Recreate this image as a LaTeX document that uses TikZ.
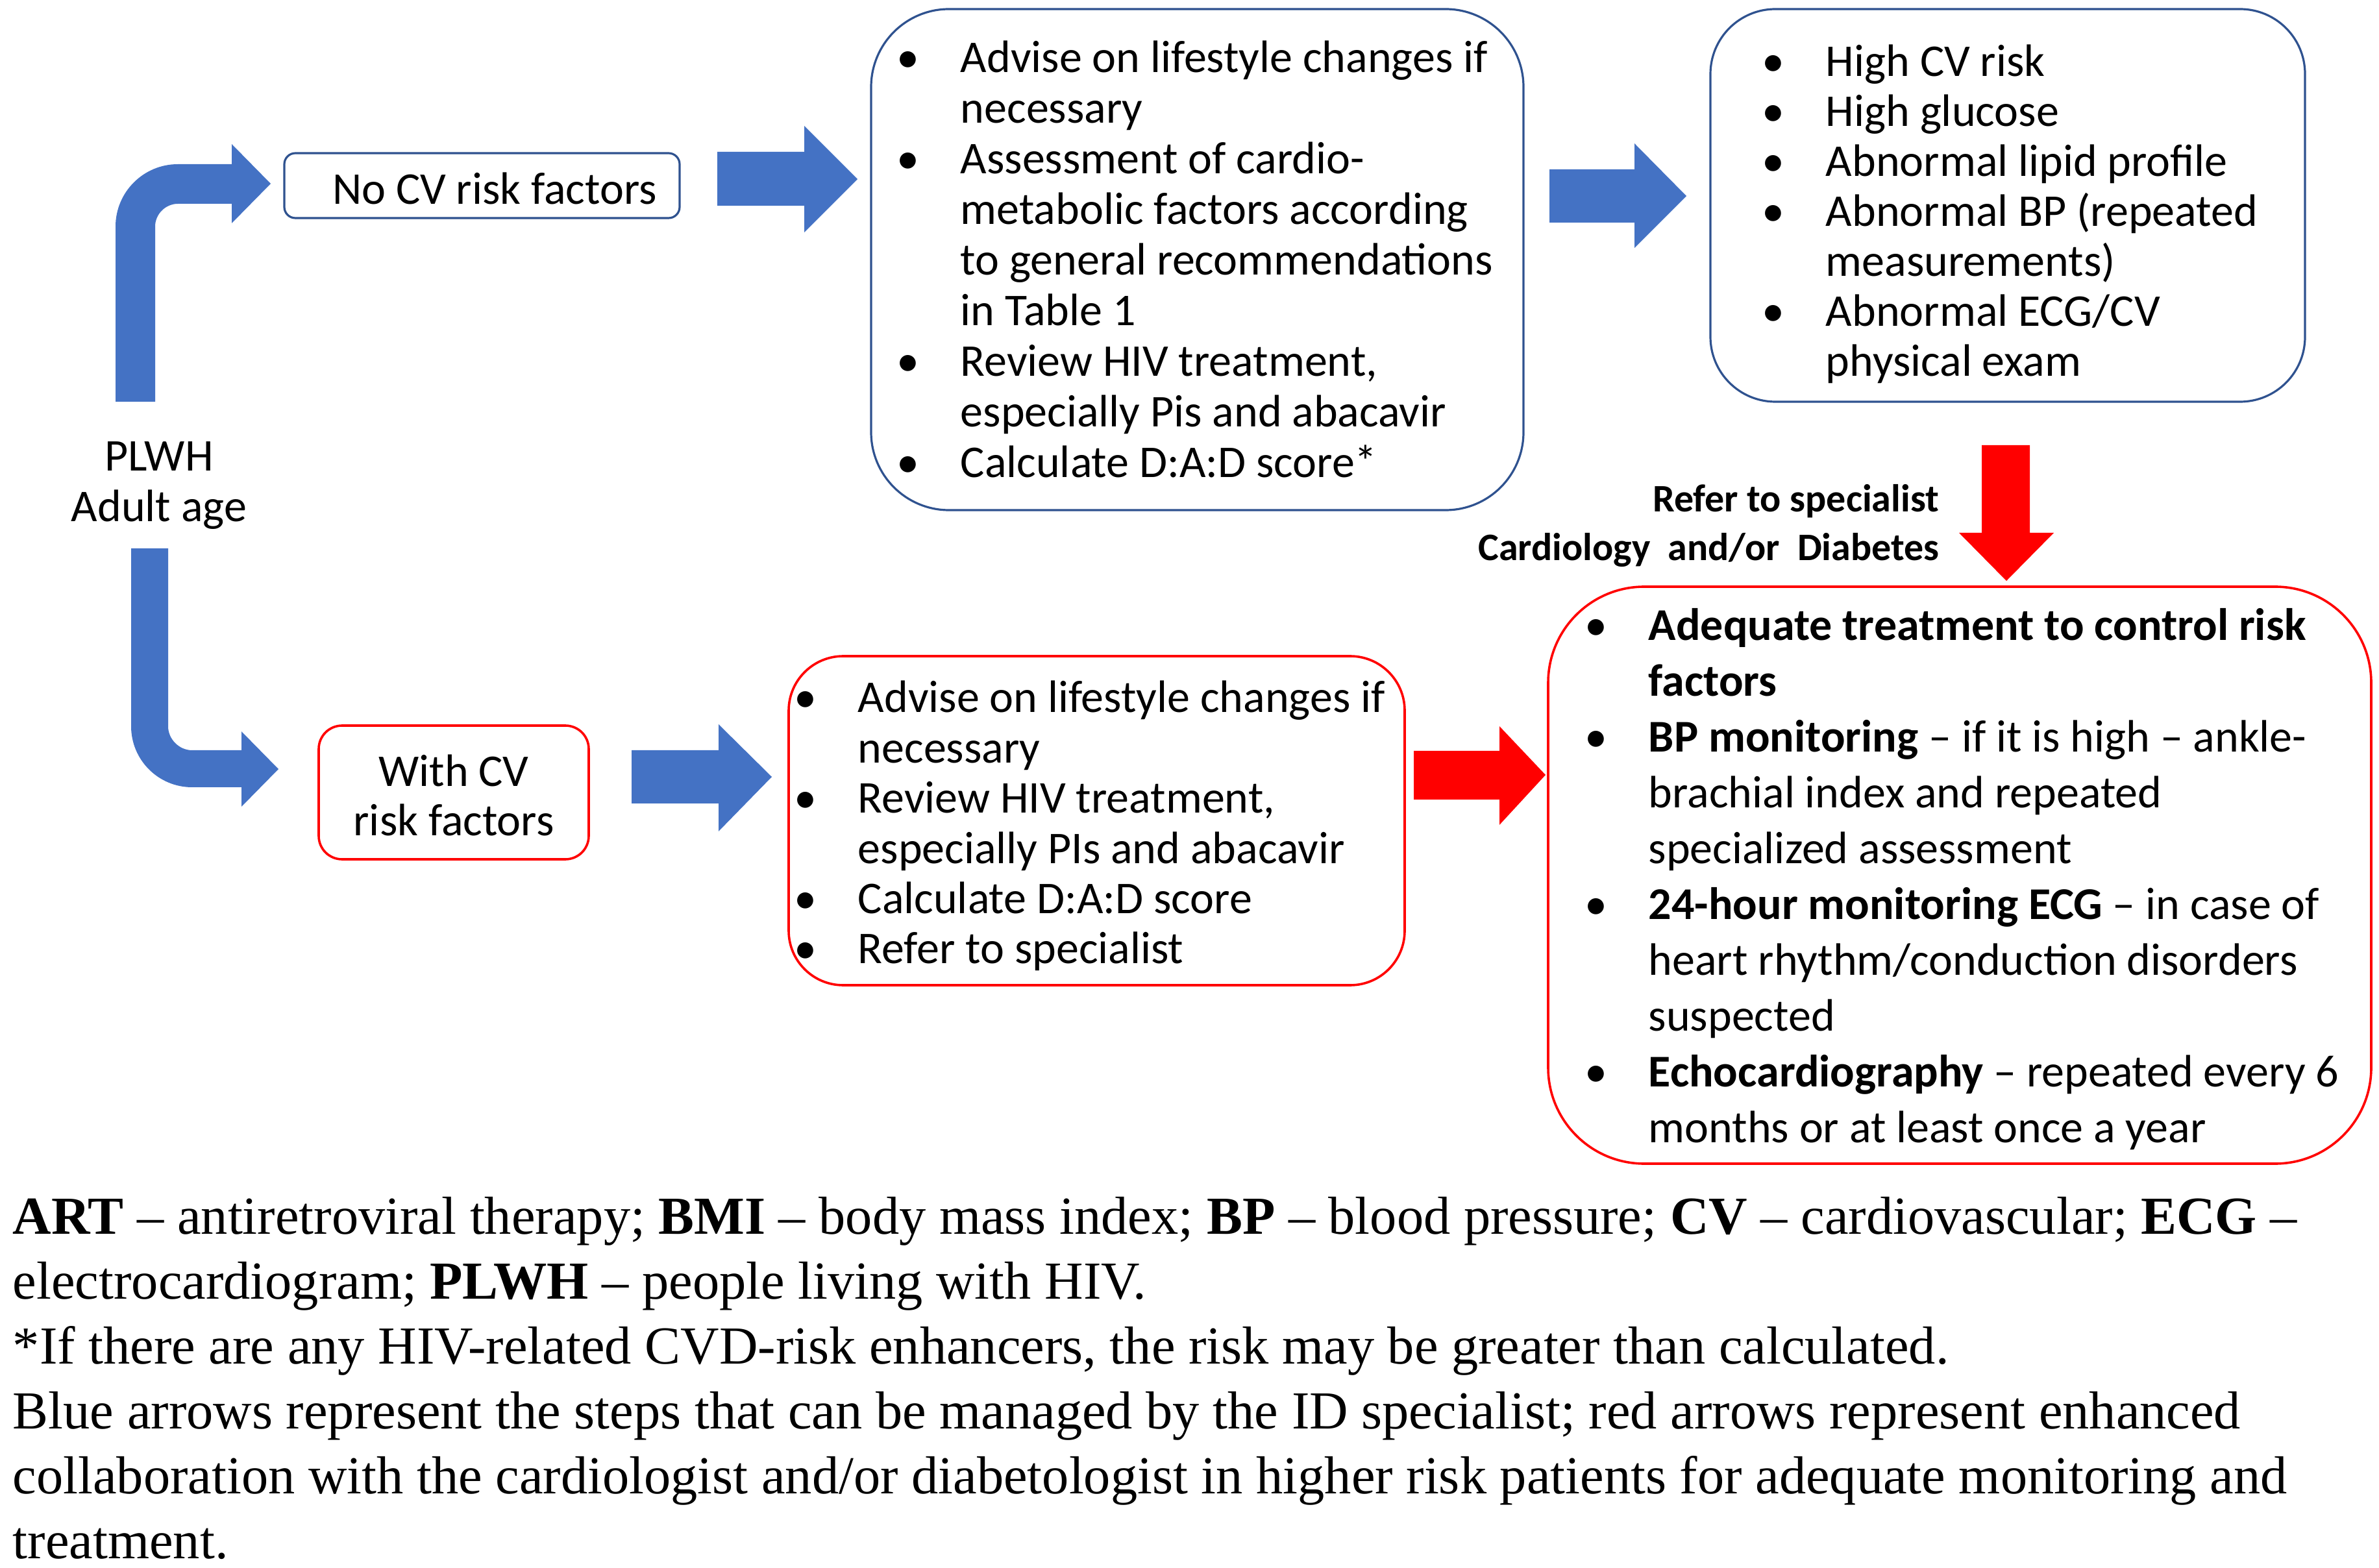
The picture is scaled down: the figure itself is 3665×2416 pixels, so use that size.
\documentclass[tikz,border=0pt]{standalone}
\usepackage{fontspec}
\setmainfont{Carlito}
\newfontfamily\footfont{Liberation Serif}
\definecolor{arrowblue}{HTML}{4472C4}
\definecolor{boxblue}{HTML}{2F528F}
\definecolor{arrowred}{HTML}{FF0000}
\newlength\bw
\setlength\bw{20.5pt}
\newcommand\bl[1]{\makebox[\bw][l]{\hspace*{-4pt}•}#1}
\newcommand\cl[1]{\hspace*{\bw}#1}
\tikzset{
  bluebox/.style={draw=boxblue, line width=0.8pt, rectangle, inner sep=0pt, fill=white},
  redbox/.style={draw=arrowred, line width=0.9pt, rectangle, inner sep=0pt, fill=white},
  listtext/.style={inner sep=0pt, anchor=base west},
  bluearrow/.style={fill=arrowblue},
  redarrow/.style={fill=arrowred},
}
\begin{document}
\begin{tikzpicture}[x=0.25pt,y=-0.25pt]
\useasboundingbox (0,0) rectangle (3665,2416);

% ---- boxes ----
\node[bluebox, minimum width=152.25pt, minimum height=25pt, rounded corners=4.25pt,
      text height=15.5pt, text depth=1pt, font=\fontsize{17.5}{19.5}\selectfont]
      (nocv) at (742.5,286) {\hspace*{9.75pt}No CV risk factors};
\node[bluebox, minimum width=251.25pt, minimum height=193pt, rounded corners=30pt] (box2) at (1844.5,400) {};
\node[bluebox, minimum width=229pt, minimum height=151.25pt, rounded corners=25pt] (box3) at (3093,316.5) {};
\node[redbox, minimum width=104pt, minimum height=51.5pt, rounded corners=9pt,
      text height=14pt, text depth=19pt]
      (withcv) at (699,1221) {\fontsize{17.5}{19.25}\selectfont\begin{tabular}[t]{@{}c@{}}With CV\\risk factors\end{tabular}};
\node[redbox, minimum width=237.25pt, minimum height=126.75pt, rounded corners=21pt] (box5) at (1689.5,1264.5) {};
\node[redbox, minimum width=317pt, minimum height=222.25pt, rounded corners=37pt] (box6) at (3019,1348.5) {};

% ---- texts ----
\node[inner sep=0pt, anchor=base] (plwh) at (245,726)
  {\fontsize{17.5}{19.5}\selectfont\begin{tabular}[t]{@{}c@{}}PLWH\\Adult age\end{tabular}};

\node[listtext] (t2) at (1397,112) {\fontsize{17.5}{19.47}\selectfont\begin{tabular}[t]{@{}l@{}}
\bl{Advise on lifestyle changes if}\\
\cl{necessary}\\
\bl{Assessment of cardio-}\\
\cl{metabolic factors according}\\
\cl{to general recommendations}\\
\cl{in Table 1}\\
\bl{Review HIV treatment,}\\
\cl{especially Pis and abacavir}\\
\bl{Calculate D:A:D score*}
\end{tabular}};

\node[listtext] (t3) at (2730,118) {\fontsize{17.5}{19.25}\selectfont\begin{tabular}[t]{@{}l@{}}
\bl{High CV risk}\\
\bl{High glucose}\\
\bl{Abnormal lipid profile}\\
\bl{Abnormal BP (repeated}\\
\cl{measurements)}\\
\bl{Abnormal ECG/CV}\\
\cl{physical exam}
\end{tabular}};

\node[listtext] (t5) at (1239,1098) {\fontsize{17.5}{19.35}\selectfont\begin{tabular}[t]{@{}l@{}}
\bl{Advise on lifestyle changes if}\\
\cl{necessary}\\
\bl{Review HIV treatment,}\\
\cl{especially PIs and abacavir}\\
\bl{Calculate D:A:D score}\\
\bl{Refer to specialist}
\end{tabular}};

\node[listtext] (t6) at (2457,987) {\fontsize{17.5}{21.5}\selectfont\begin{tabular}[t]{@{}l@{}}
\bl{\textbf{Adequate treatment to control risk}}\\
\cl{\textbf{factors}}\\
\bl{\textbf{BP monitoring} – if it is high – ankle-}\\
\cl{brachial index and repeated}\\
\cl{specialized assessment}\\
\bl{\textbf{24-hour monitoring ECG} – in case of}\\
\cl{heart rhythm/conduction disorders}\\
\cl{suspected}\\
\bl{\textbf{Echocardiography} – repeated every 6}\\
\cl{months or at least once a year}
\end{tabular}};

\node[inner sep=0pt, anchor=base east] (refer) at (2988,789)
  {\fontsize{15}{18.75}\selectfont\bfseries\begin{tabular}[t]{@{}r@{}}Refer to specialist\\Cardiology\ \ and/or\ \ Diabetes\end{tabular}};

\node[inner sep=0pt, anchor=base west] (foot) at (19,1901)
  {\footfont\fontsize{20.6}{25}\selectfont\begin{tabular}[t]{@{}l@{}}
\textbf{ART} – antiretroviral therapy; \textbf{BMI} – body mass index; \textbf{BP} – blood pressure; \textbf{CV} – cardiovascular; \textbf{ECG} –\\
electrocardiogram; \textbf{PLWH} – people living with HIV.\\
{*}If there are any HIV-related CVD-risk enhancers, the risk may be greater than calculated.\\
Blue arrows represent the steps that can be managed by the ID specialist; red arrows represent enhanced\\
collaboration with the cardiologist and/or diabetologist in higher risk patients for adequate monitoring and\\
treatment.
\end{tabular}};

% ---- bent arrows ----
\fill[bluearrow] (178,619) -- (178,349) .. controls (178,296) and (221,253) .. (274,253)
  -- (357,253) -- (357,222) -- (417,283) -- (357,344) -- (357,314) -- (274,314)
  .. controls (255,314) and (239,330) .. (239,349) -- (239,619) -- cycle;
\fill[bluearrow] (202,845) -- (202,1119) .. controls (202,1171) and (244,1213) .. (296,1213)
  -- (372,1213) -- (372,1243) -- (429,1185) -- (372,1127) -- (372,1156) -- (296,1156)
  .. controls (276,1156) and (259,1139) .. (259,1119) -- (259,845) -- cycle;

% ---- straight block arrows ----
\fill[bluearrow] (1105,234) -- (1239,234) -- (1239,194) -- (1321,276) -- (1239,358) -- (1239,317) -- (1105,317) -- cycle;
\fill[bluearrow] (2387,261) -- (2518,261) -- (2518,221) -- (2598,302) -- (2518,382) -- (2518,343) -- (2387,343) -- cycle;
\fill[bluearrow] (973,1156) -- (1107,1156) -- (1107,1116) -- (1189,1197) -- (1107,1281) -- (1107,1238) -- (973,1238) -- cycle;
\fill[redarrow] (2178,1157) -- (2310,1157) -- (2310,1119) -- (2381,1194) -- (2310,1271) -- (2310,1232) -- (2178,1232) -- cycle;
\fill[redarrow] (3053,686) -- (3127,686) -- (3127,821) -- (3164,821) -- (3091,895) -- (3018,821) -- (3053,821) -- cycle;
\end{tikzpicture}
\end{document}
